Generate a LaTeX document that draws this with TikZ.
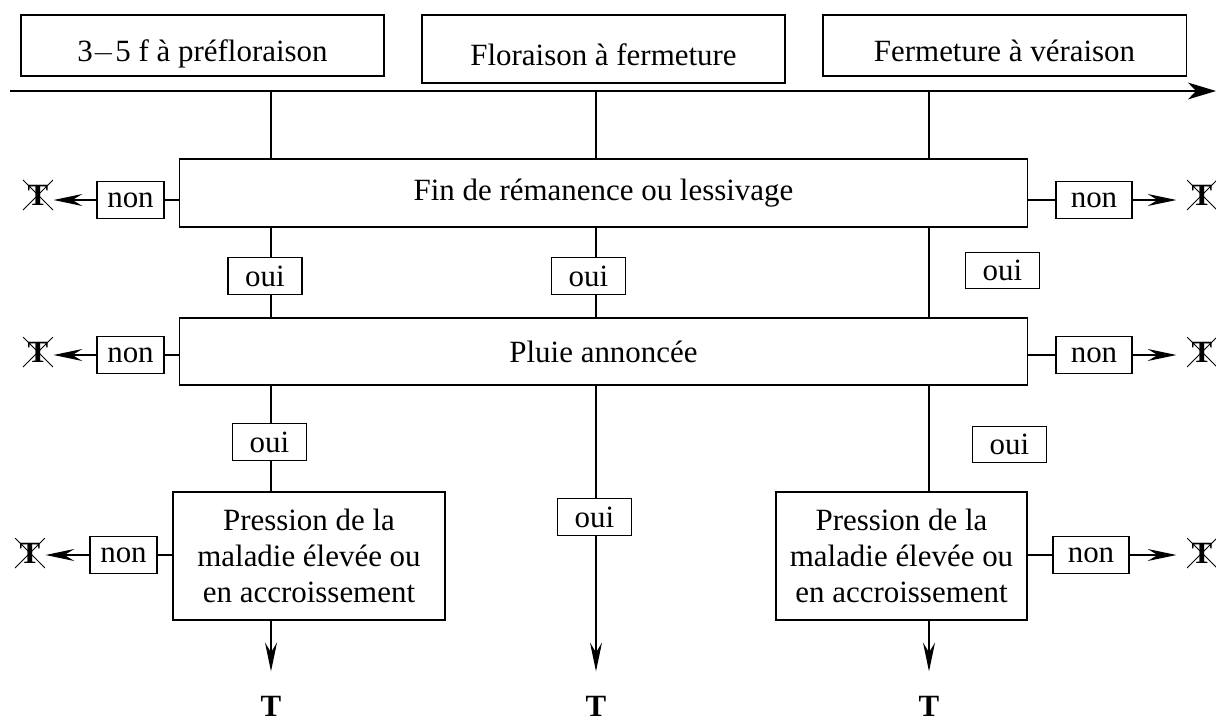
\documentclass[tikz,border=0pt]{standalone}
\usepackage{fontspec}
\setmainfont{Liberation Serif}
\usetikzlibrary{arrows.meta}

\tikzset{
  box/.style={draw, fill=white, line width=0.8pt, inner sep=2pt, font=\fontsize{22}{25.5}\selectfont},
  period/.style={box, minimum width=9.075cm, text height=0.9cm, text depth=0.1cm},
  test/.style={box, minimum width=21.175cm},
  press/.style={box, align=center, minimum height=3.2cm},
  rep/.style={box, minimum width=1.85cm, minimum height=0.92cm},
  crossT/.style={inner sep=0pt, minimum size=0.75cm, font=\fontsize{22}{25}\selectfont\bfseries,
    path picture={\draw[line width=0.6pt] (path picture bounding box.north west) -- (path picture bounding box.south east)
      (path picture bounding box.north east) -- (path picture bounding box.south west);}},
  endT/.style={inner sep=0pt, font=\fontsize{22}{25}\selectfont\bfseries},
  arr/.style={-{Stealth[length=0.72cm,width=0.3cm,inset=0.25cm]}},
}

\begin{document}
\begin{tikzpicture}[x=0.025cm, y=-0.025cm, line width=0.8pt]
  \useasboundingbox (0,0) rectangle (1216,724);
  % periods on the time axis
  \node[period, minimum height=1.525cm] (per1) at (202.5,45.5) {3$-$5 f à préfloraison};
  \node[period, minimum height=1.7cm] (per2) at (603.5,49) {Floraison à fermeture};
  \node[period, minimum height=1.525cm] (per3) at (1004.5,45.5) {Fermeture à véraison};
  \coordinate (axL) at (10,91);
  \coordinate (axR) at (1216,91);
  \draw[-{Stealth[length=0.7cm,width=0.42cm,inset=0.2cm]}] (axL) -- (axR);
  \coordinate (c1) at (271,91);
  \coordinate (c2) at (596,91);
  \coordinate (c3) at (929,91);

  % tests
  \node[test, minimum height=1.7cm] (fin) at (603.5,193) {Fin de rémanence ou lessivage};
  \node[test, minimum height=1.675cm] (pluie) at (603.5,351.5) {Pluie annoncée};
  \node[press, minimum width=6.8cm] (presL) at (309,556) {Pression de la\\maladie élevée ou\\en accroissement};
  \node[press, minimum width=6.275cm] (presR) at (901.5,556) {Pression de la\\maladie élevée ou\\en accroissement};

  % answers
  \node[rep] (o11) at (265,276) {oui};
  \node[rep] (o12) at (588.5,276) {oui};
  \node[rep] (o13) at (1002.5,270.5) {oui};
  \node[rep] (o21) at (269.5,442) {oui};
  \node[rep] (o22) at (594.5,517) {oui};
  \node[rep] (o23) at (1009.5,444.5) {oui};
  \node[rep, minimum width=1.675cm] (nL1) at (130.5,200) {non};
  \node[rep, minimum width=1.675cm] (nL2) at (130.5,355) {non};
  \node[rep, minimum width=1.675cm] (nL3) at (123.5,555) {non};
  \node[rep, minimum width=1.9cm] (nR1) at (1094,200) {non};
  \node[rep, minimum width=1.9cm] (nR2) at (1094,355) {non};
  \node[rep, minimum width=1.9cm] (nR3) at (1091,555) {non};

  % outcomes
  \node[crossT] (xL1) at (38,195) {T};
  \node[crossT] (xL2) at (38,352) {T};
  \node[crossT] (xL3) at (30,553) {T};
  \node[crossT] (xR1) at (1202,195) {T};
  \node[crossT] (xR2) at (1202,352) {T};
  \node[crossT] (xR3) at (1202,553) {T};
  \node[endT] (tB1) at (271,706) {T};
  \node[endT] (tB2) at (596,706) {T};
  \node[endT] (tB3) at (929,706) {T};

  % column lines
  \draw (c1) -- (fin.north -| c1)
        (fin.south -| c1) -- (c1 |- o11.north)
        (c1 |- o11.south) -- (pluie.north -| c1)
        (pluie.south -| c1) -- (c1 |- o21.north)
        (c1 |- o21.south) -- (presL.north -| c1);
  \draw (c2) -- (fin.north -| c2)
        (fin.south -| c2) -- (c2 |- o12.north)
        (c2 |- o12.south) -- (pluie.north -| c2)
        (pluie.south -| c2) -- (c2 |- o22.north);
  \draw (c3) -- (fin.north -| c3)
        (fin.south -| c3) -- (pluie.north -| c3)
        (pluie.south -| c3) -- (presR.north -| c3);
  \draw[arr, shorten >=0.6cm] (presL.south -| c1) -- (tB1);
  \draw[arr, shorten >=0.6cm] (c2 |- o22.south) -- (tB2);
  \draw[arr, shorten >=0.6cm] (presR.south -| c3) -- (tB3);

  % refusals
  \draw (fin.west |- nL1.east) -- (nL1.east);
  \draw (pluie.west |- nL2.east) -- (nL2.east);
  \draw (presL.west |- nL3.east) -- (nL3.east);
  \draw (fin.east |- nR1.west) -- (nR1.west);
  \draw (pluie.east |- nR2.west) -- (nR2.west);
  \draw (presR.east |- nR3.west) -- (nR3.west);
  \draw[arr] (nL1.west) -- (xL1.east |- nL1.west);
  \draw[arr] (nL2.west) -- (xL2.east |- nL2.west);
  \draw[arr] (nL3.west) -- (xL3.east |- nL3.west);
  \draw[arr, shorten >=0.25cm] (nR1.east) -- (xR1.west |- nR1.east);
  \draw[arr, shorten >=0.25cm] (nR2.east) -- (xR2.west |- nR2.east);
  \draw[arr, shorten >=0.25cm] (nR3.east) -- (xR3.west |- nR3.east);
\end{tikzpicture}
\end{document}
